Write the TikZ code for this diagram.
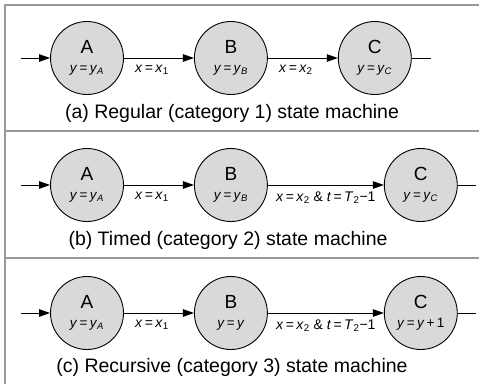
\documentclass[tikz,border=0pt]{standalone}
\usepackage{fontspec}
\setmainfont{Liberation Sans}
\usetikzlibrary{arrows.meta, positioning}

\newcommand{\vv}[1]{\textit{#1}}
\newcommand{\sbx}[1]{\textsubscript{#1}}
\newcommand{\st}[2]{{\fontsize{19}{19}\selectfont #1}\\[7pt]{\fontsize{13.5}{13.5}\selectfont #2}}

\begin{document}
\begin{tikzpicture}[x=1pt, y=-1pt, >={Triangle[length=11pt,width=7.5pt]}, node distance=70pt,
  state/.style={draw, circle, fill=gray!30, line width=0.9pt, minimum size=73pt, inner sep=0pt, align=center},
  cond/.style={font=\fontsize{14}{14}\selectfont, below=3pt},
  caption/.style={font=\fontsize{19.5}{19.5}\selectfont},
  edge/.style={->, line width=1pt},
  frame/.style={draw=gray!80, line width=1.5pt}]
\useasboundingbox (0,0) rectangle (479,384);

% frame and dividers
\draw[frame] (479,5) -- (5,5) -- (5,384);
\draw[frame] (5,131) -- (479,131);
\draw[frame] (5,258) -- (479,258);

% (a) regular
\node[state] (A1) at (87,58) {\st{A}{\vv{y}\,=\,\vv{y}\sbx{\vv{A}}}};
\node[state, right=of A1] (B1) {\st{B}{\vv{y}\,=\,\vv{y}\sbx{\vv{B}}}};
\node[state, right=of B1] (C1) {\st{C}{\vv{y}\,=\,\vv{y}\sbx{\vv{C}}}};
\coordinate[left=29pt of A1] (in1);
\coordinate[right=19pt of C1] (out1);
\draw[edge] (in1) -- (A1);
\draw[edge] (A1) -- (B1) node[cond, pos=0.4] {\vv{x}\,=\,\vv{x}\sbx{1}};
\draw[edge] (B1) -- (C1) node[cond, pos=0.4] {\vv{x}\,=\,\vv{x}\sbx{2}};
\draw[line width=1pt] (C1) -- (out1);
\node[caption] (cap1) at (232,113) {(a) Regular (category 1) state machine};

% (b) timed
\node[state] (A2) at (87,185) {\st{A}{\vv{y}\,=\,\vv{y}\sbx{\vv{A}}}};
\node[state, right=of A2] (B2) {\st{B}{\vv{y}\,=\,\vv{y}\sbx{\vv{B}}}};
\node[state, right=116pt of B2] (C2) {\st{C}{\vv{y}\,=\,\vv{y}\sbx{\vv{C}}}};
\coordinate[left=29pt of A2] (in2);
\coordinate[right=18pt of C2] (out2);
\draw[edge] (in2) -- (A2);
\draw[edge] (A2) -- (B2) node[cond, pos=0.4] {\vv{x}\,=\,\vv{x}\sbx{1}};
\draw[edge] (B2) -- (C2) node[cond, midway] {\vv{x}\,=\,\vv{x}\sbx{2} \& \vv{t}\,=\,\vv{T}\sbx{2}−1};
\draw[line width=1pt] (C2) -- (out2);
\node[caption] (cap2) at (228,240) {(b) Timed (category 2) state machine};

% (c) recursive
\node[state] (A3) at (87,313) {\st{A}{\vv{y}\,=\,\vv{y}\sbx{\vv{A}}}};
\node[state, right=of A3] (B3) {\st{B}{\vv{y}\,=\,\vv{y}}};
\node[state, right=116pt of B3] (C3) {\st{C}{\vv{y}\,=\,\vv{y}\,+\,1}};
\coordinate[left=29pt of A3] (in3);
\coordinate[right=18pt of C3] (out3);
\draw[edge] (in3) -- (A3);
\draw[edge] (A3) -- (B3) node[cond, pos=0.4] {\vv{x}\,=\,\vv{x}\sbx{1}};
\draw[edge] (B3) -- (C3) node[cond, midway] {\vv{x}\,=\,\vv{x}\sbx{2} \& \vv{t}\,=\,\vv{T}\sbx{2}−1};
\draw[line width=1pt] (C3) -- (out3);
\node[caption] (cap3) at (232,367) {(c) Recursive (category 3) state machine};

\end{tikzpicture}
\end{document}
